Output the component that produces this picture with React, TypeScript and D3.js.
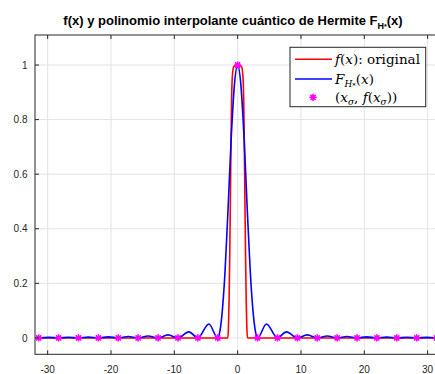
import React from "react";
import * as d3 from "d3";

const xTicks = [-30, -20, -10, 0, 10, 20, 30];
const yTicks = [0, 0.2, 0.4, 0.6, 0.8, 1];
const yTickLabels = ["0", "0.2", "0.4", "0.6", "0.8", "1"];

// f(x): original (red)
const redX = [-31.42, -1.55, -1.45, -1.35, -1.25, -1.15, -1.05, -0.95, -0.8, -0.6, 0, 0.6, 0.8, 0.95, 1.05, 1.15, 1.25, 1.35, 1.45, 1.55, 31.42];
const redY = [0, 0, 0.04, 0.14, 0.3, 0.5, 0.72, 0.88, 0.97, 0.995, 1, 0.995, 0.97, 0.88, 0.72, 0.5, 0.3, 0.14, 0.04, 0, 0];

// F_H(x) interpolant (blue)
const blueX = [
  -31.42, -29.85, -28.27, -26.7, -25.13, -23.56, -21.99, -20.42, -18.85, -17.28, -15.71,
  -14.14, -12.57, -10.99, -9.42, -7.7, -6.28, -4.55, -3.14, -2.8, -2.5, -2.0, -1.5, -1.0, -0.5,
  0, 0.5, 1.0, 1.5, 2.0, 2.5, 2.8, 3.14, 4.55, 6.28, 7.7, 9.42, 10.99, 12.57, 14.14, 15.71,
  17.28, 18.85, 20.42, 21.99, 23.56, 25.13, 26.7, 28.27, 29.85, 31.42,
];
const blueY = [
  0, 0.002, 0, 0.0025, 0, 0.003, 0, 0.004, 0, 0.005, 0,
  0.007, 0, 0.011, 0, 0.022, 0, 0.051, 0, 0.025, 0.08, 0.24, 0.48, 0.74, 0.93,
  1, 0.93, 0.74, 0.48, 0.24, 0.08, 0.025, 0, 0.051, 0, 0.022, 0, 0.011, 0, 0.007, 0,
  0.005, 0, 0.004, 0, 0.003, 0, 0.0025, 0, 0.002, 0,
];

// nodes (x_sigma, f(x_sigma))
const nodeX = [-31.42, -28.27, -25.13, -21.99, -18.85, -15.71, -12.57, -9.42, -6.28, -3.14, 0, 3.14, 6.28, 9.42, 12.57, 15.71, 18.85, 21.99, 25.13, 28.27, 31.42];
const nodeY = [0, 0, 0, 0, 0, 0, 0, 0, 0, 0, 1, 0, 0, 0, 0, 0, 0, 0, 0, 0, 0];

const W = 435;
const H = 374;
const L = 35, R = 440.3, T = 35, B = 354.3;
const axisColor = "#262626";
const gridColor = "#e3e3e3";
const sans = "'Liberation Sans', Arial, Helvetica, sans-serif";
const serif = "'DejaVu Serif', 'Liberation Serif', serif";

function star(cx: number, cy: number, r: number) {
  const d = r * 0.72;
  return `M${cx - r},${cy}L${cx + r},${cy}M${cx},${cy - r}L${cx},${cy + r}M${cx - d},${cy - d}L${cx + d},${cy + d}M${cx - d},${cy + d}L${cx + d},${cy - d}`;
}

export default function App() {
  const x = d3.scaleLinear().domain([-32, 32]).range([L, R]);
  const y = d3.scaleLinear().domain([-0.06, 1.11]).range([B, T]);
  const line = d3
    .line<[number, number]>()
    .x((d) => x(d[0]))
    .y((d) => y(d[1]))
    .curve(d3.curveMonotoneX);
  const redPts = redX.map((v, i) => [v, redY[i]] as [number, number]);
  const bluePts = blueX.map((v, i) => [v, blueY[i]] as [number, number]);

  return (
    <svg width={W} height={H} style={{ position: "absolute", left: 0, top: 0, background: "#fff" }}>
      <defs>
        <clipPath id="plotclip">
          <rect x={L} y={T} width={R - L} height={B - T} />
        </clipPath>
      </defs>
      <rect x={0} y={0} width={W} height={H} fill="#fff" />
      <rect x={L} y={T} width={R - L} height={B - T} fill="#fff" />
      {/* grid */}
      {xTicks.map((t) => (
        <line key={"gx" + t} x1={x(t)} x2={x(t)} y1={T} y2={B} stroke={gridColor} strokeWidth={1} />
      ))}
      {yTicks.map((t) => (
        <line key={"gy" + t} x1={L} x2={R} y1={y(t)} y2={y(t)} stroke={gridColor} strokeWidth={1} />
      ))}
      {/* data */}
      <g clipPath="url(#plotclip)">
        <path d={line(redPts) || ""} fill="none" stroke="#ff0000" strokeWidth={1.6} />
        <path d={line(bluePts) || ""} fill="none" stroke="#0000ff" strokeWidth={1.6} />
      </g>
      {nodeX.map((v, i) => (
        <path key={"n" + i} d={star(x(v), y(nodeY[i]), 3.6)} stroke="#ff00ff" strokeWidth={1.6} fill="none" />
      ))}
      {/* axes box */}
      <rect x={L} y={T} width={R - L} height={B - T} fill="none" stroke={axisColor} strokeWidth={1} />
      {/* ticks */}
      {xTicks.map((t) => (
        <g key={"tx" + t}>
          <line x1={x(t)} x2={x(t)} y1={B} y2={B - 4} stroke={axisColor} />
          <line x1={x(t)} x2={x(t)} y1={T} y2={T + 4} stroke={axisColor} />
          <text x={x(t)} y={372.5} textAnchor="middle" fontFamily={sans} fontSize={10} fill={axisColor}>
            {t}
          </text>
        </g>
      ))}
      {yTicks.map((t, i) => (
        <g key={"ty" + t}>
          <line x1={L} x2={L + 4} y1={y(t)} y2={y(t)} stroke={axisColor} />
          <text x={27.5} y={y(t) + 3.6} textAnchor="end" fontFamily={sans} fontSize={10} fill={axisColor}>
            {yTickLabels[i]}
          </text>
        </g>
      ))}
      {/* title */}
      <text x={233} y={25} textAnchor="middle" fontFamily={sans} fontSize={13} fontWeight="bold" fill="#000">
        f(x) y polinomio interpolante cuántico de Hermite F
        <tspan fontSize={9} dy={3.5}>H</tspan>
        <tspan fontSize={7} dy={0}>*</tspan>
        <tspan dy={-3.5}>(x)</tspan>
      </text>
      {/* legend */}
      <rect x={290} y={47.3} width={135.7} height={59.4} fill="#fff" stroke={axisColor} strokeWidth={1} />
      <line x1={295} x2={332} y1={59.3} y2={59.3} stroke="#ff0000" strokeWidth={1.6} />
      <text x={335} y={63.9} fontFamily={serif} fontSize={13.5} fill="#000">
        <tspan fontStyle="italic">f</tspan>(<tspan fontStyle="italic">x</tspan>):{" "}original
      </text>
      <line x1={295} x2={332} y1={79} y2={79} stroke="#0000ff" strokeWidth={1.6} />
      <text x={335} y={83.6} fontFamily={serif} fontSize={13.5} fill="#000">
        <tspan fontStyle="italic">F</tspan>
        <tspan fontStyle="italic" fontSize={9} dy={3}>H</tspan>
        <tspan fontStyle="italic" fontSize={7} dy={1}>*</tspan>
        <tspan dy={-4}>(</tspan>
        <tspan fontStyle="italic">x</tspan>)
      </text>
      <path d={star(313, 97.3, 3.6)} stroke="#ff00ff" strokeWidth={1.6} fill="none" />
      <text x={335} y={101.9} fontFamily={serif} fontSize={13.5} fill="#000">
        (<tspan fontStyle="italic">x</tspan>
        <tspan fontStyle="italic" fontSize={9} dy={3}>σ</tspan>
        <tspan dy={-3}>, </tspan>
        <tspan fontStyle="italic">f</tspan>(<tspan fontStyle="italic">x</tspan>
        <tspan fontStyle="italic" fontSize={9} dy={3}>σ</tspan>
        <tspan dy={-3}>))</tspan>
      </text>
    </svg>
  );
}
